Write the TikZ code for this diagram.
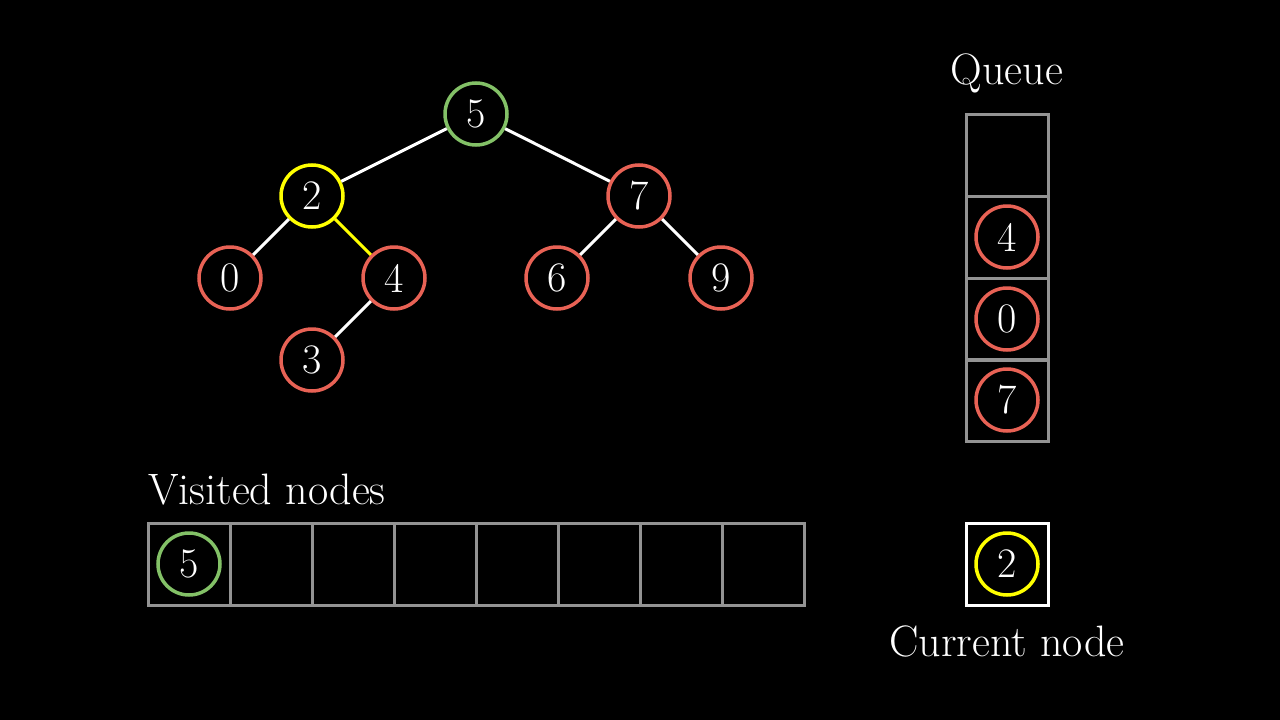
\documentclass[tikz,border=0pt]{standalone}
\begin{document}
\begin{tikzpicture}[x=1pt,y=-1pt,
  nd/.style={circle,draw,line width=3.5pt,minimum size=62pt,inner sep=0pt,text=white,font=\fontsize{42}{46}\selectfont},
  gr/.style={nd,draw=grn},rd/.style={nd,draw=red1},yl/.style={nd,draw=yel},
  cell/.style={draw=gray!85,line width=3pt,minimum size=82pt,inner sep=0pt},
  ed/.style={draw=white,line width=3pt},
  lbl/.style={text=white,font=\fontsize{44}{48}\selectfont}]
\definecolor{grn}{RGB}{131,193,103}
\definecolor{red1}{RGB}{232,98,85}
\definecolor{yel}{RGB}{255,255,0}
\fill[black] (0,0) rectangle (1280,720);
\useasboundingbox (0,0) rectangle (1280,720);
\node[gr] (n5) at (476,114) {5};
\node[yl] (n2) at (312,196) {2};
\node[rd] (n7) at (639,196) {7};
\node[rd] (n0) at (230,278) {0};
\node[rd] (n4) at (394,278) {4};
\node[rd] (n6) at (557,278) {6};
\node[rd] (n9) at (721,278) {9};
\node[rd] (n3) at (312,360) {3};
\draw[ed] (n5)--(n2); \draw[ed] (n5)--(n7);
\draw[ed] (n2)--(n0); \draw[ed,draw=yel] (n2)--(n4);
\draw[ed] (n7)--(n6); \draw[ed] (n7)--(n9);
\draw[ed] (n4)--(n3);
% queue
\node[cell] (q0) at (1007,155) {};
\node[cell] (q1) at (1007,237) {};
\node[cell] (q2) at (1007,319) {};
\node[cell] (q3) at (1007,400) {};
\node[rd] (qa) at (q1) {4};
\node[rd] (qb) at (q2) {0};
\node[rd] (qc) at (q3) {7};
\node[lbl] (ql) at (1007,73) {Queue};
% visited
\foreach \i in {0,...,7}{\node[cell] (v\i) at (189+82*\i,564) {};}
\node[gr] (va) at (v0) {5};
\node[lbl,anchor=west,inner sep=0pt] (vl) at (148,490) {Visited nodes};
% current
\node[cell,draw=white] (cur) at (1007,564) {};
\node[yl] (ca) at (cur) {2};
\node[lbl] (cl) at (1007,641) {Current node};
\end{tikzpicture}
\end{document}
